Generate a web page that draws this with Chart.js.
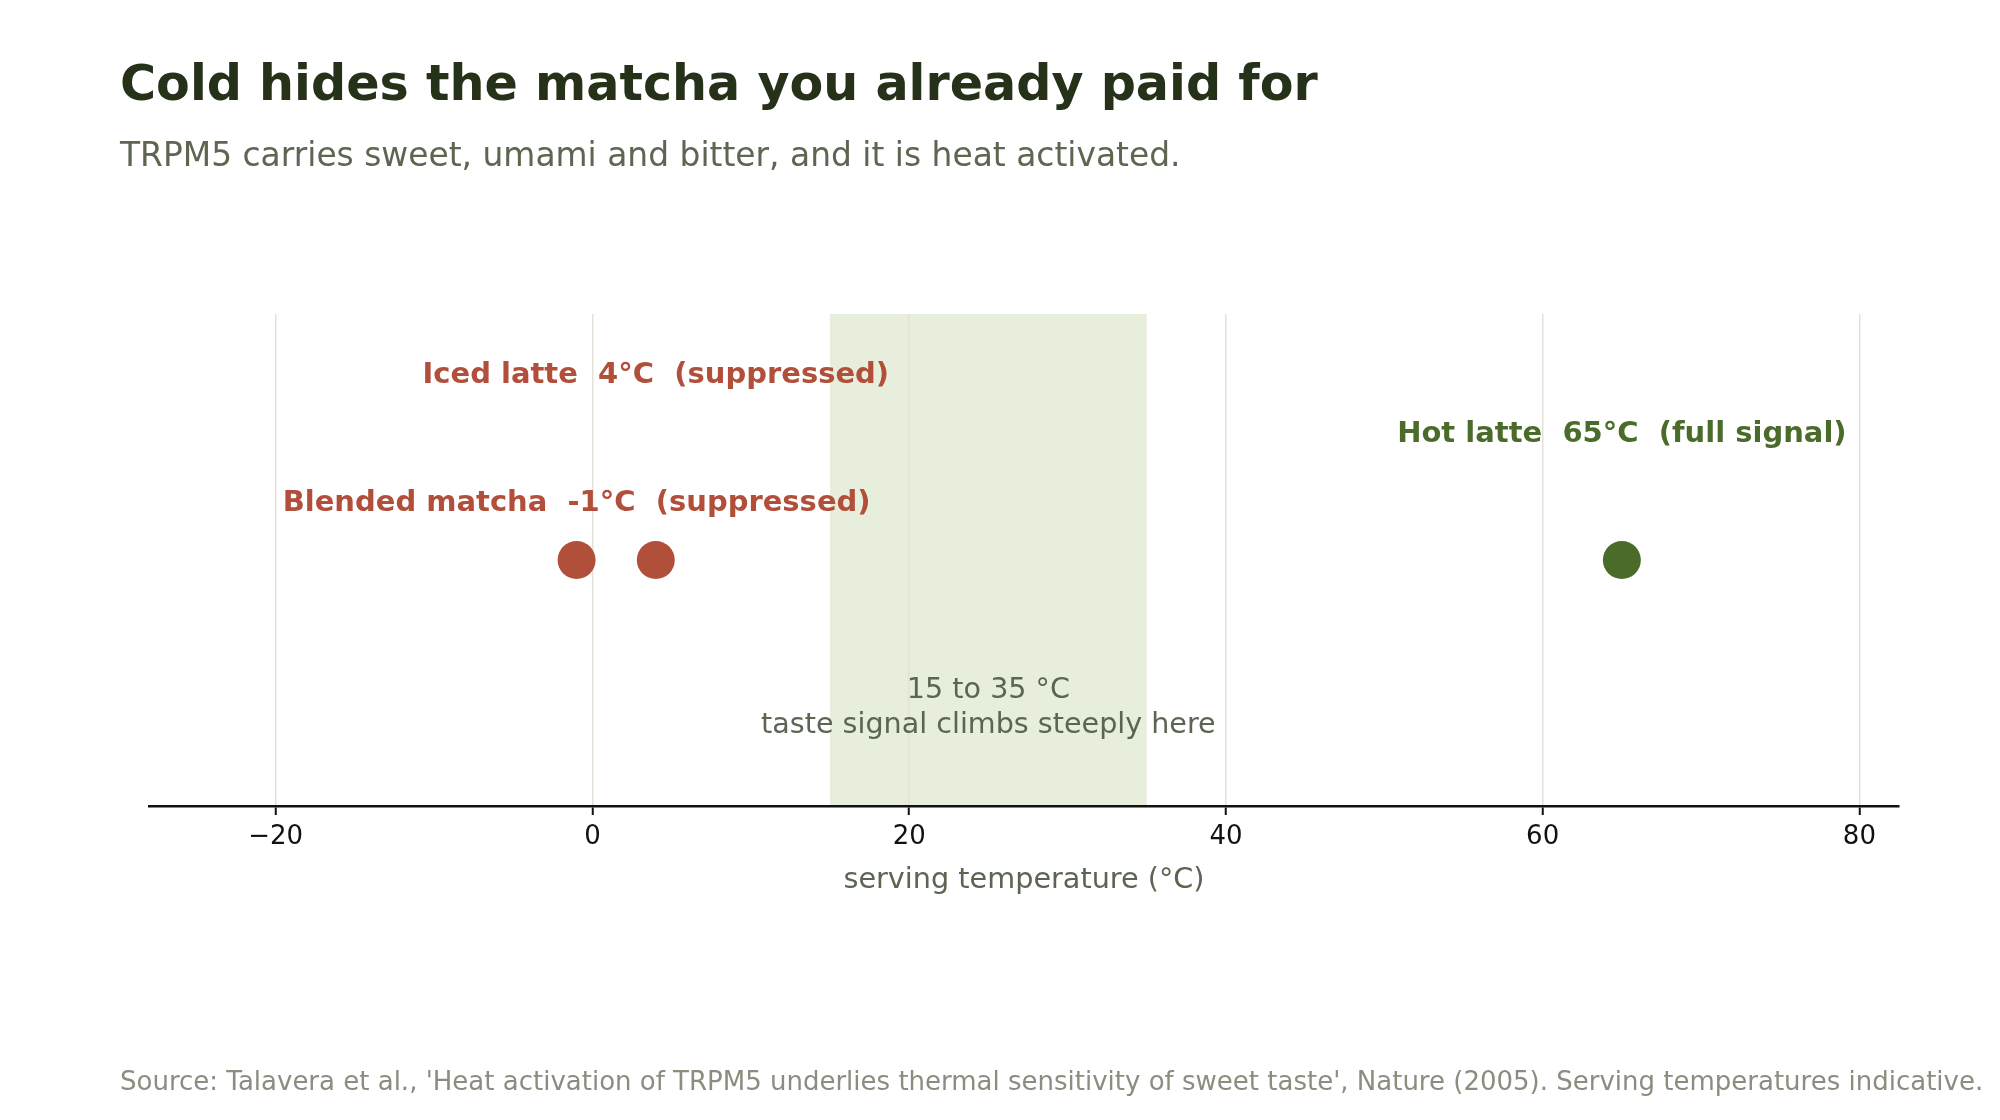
<!DOCTYPE html>
<html>
<head>
<meta charset="utf-8">
<script src="https://cdn.jsdelivr.net/npm/chart.js@4.4.1/dist/chart.umd.min.js"></script>
<style>
  html, body { margin: 0; padding: 0; background: #ffffff; }
  #wrap { width: 2000px; height: 1120px; position: relative; }
</style>
</head>
<body>
<div id="wrap"><canvas id="tempChart" width="2000" height="1120"></canvas></div>
<script>
// drinks and their serving temperatures
const drinks = ['Blended matcha', 'Iced latte', 'Hot latte'];
const temps = [-1, 4, 65];
const signal = ['suppressed', 'suppressed', 'full signal'];
// height (0..1) of each label baseline above the axis
const labelLevel = [0.60, 0.86, 0.74];
const rowY = 0.5;

// TRPM5 steep zone
const band = [15, 35];
const bandNote = ['15 to 35 °C', 'taste signal climbs steeply here'];

const xTicks = [-20, 0, 20, 40, 60, 80];
const xRange = [-28, 82.5];

const title = 'Cold hides the matcha you already paid for';
const subtitle = 'TRPM5 carries sweet, umami and bitter, and it is heat activated.';
const source = "Source: Talavera et al., 'Heat activation of TRPM5 underlies thermal sensitivity of sweet taste', Nature (2005). Serving temperatures indicative.";

const RED = '#b14f3b';
const GREEN = '#4b6b2b';
const FONT = "'DejaVu Sans', 'Noto Sans', sans-serif";

const colorFor = s => s === 'full signal' ? GREEN : RED;

const decorPlugin = {
    id: 'decor',
    beforeDraw(chart) {
        const {ctx, chartArea, scales} = chart;
        const x0 = scales.x.getPixelForValue(band[0]);
        const x1 = scales.x.getPixelForValue(band[1]);
        ctx.save();
        ctx.fillStyle = '#e7eedb';
        ctx.fillRect(x0, chartArea.top, x1 - x0, chartArea.bottom - chartArea.top);
        ctx.restore();
    },
    afterDatasetsDraw(chart) {
        const {ctx, scales} = chart;
        ctx.save();
        ctx.textAlign = 'center';
        ctx.textBaseline = 'alphabetic';

        // point labels
        ctx.font = 'bold 29px ' + FONT;
        drinks.forEach((d, i) => {
            ctx.fillStyle = colorFor(signal[i]);
            const px = scales.x.getPixelForValue(temps[i]);
            const py = scales.y.getPixelForValue(labelLevel[i]);
            ctx.fillText(`${d}  ${temps[i]}°C  (${signal[i]})`, px, py);
        });

        // band note
        ctx.font = '28.6px ' + FONT;
        ctx.fillStyle = '#5c6552';
        const bx = scales.x.getPixelForValue((band[0] + band[1]) / 2);
        const by = scales.y.getPixelForValue(0.148);
        ctx.fillText(bandNote[0], bx, by - 35.4);
        ctx.fillText(bandNote[1], bx, by);
        ctx.restore();
    },
    afterDraw(chart) {
        const {ctx} = chart;
        ctx.save();
        ctx.textAlign = 'left';
        ctx.textBaseline = 'alphabetic';
        ctx.fillStyle = '#263119';
        ctx.font = 'bold 49.2px ' + FONT;
        ctx.fillText(title, 120, 100);
        ctx.fillStyle = '#5d6651';
        ctx.font = '32.9px ' + FONT;
        ctx.fillText(subtitle, 120, 166);
        ctx.fillStyle = '#8a8e7f';
        ctx.font = '26px ' + FONT;
        ctx.fillText(source, 120, 1090);
        ctx.restore();
    }
};

new Chart(document.getElementById('tempChart'), {
    type: 'scatter',
    data: {
        datasets: [{
            data: temps.map(t => ({x: t, y: rowY})),
            pointRadius: 19,
            pointHoverRadius: 19,
            pointBorderWidth: 0,
            pointBackgroundColor: signal.map(colorFor),
            clip: false
        }]
    },
    options: {
        responsive: false,
        devicePixelRatio: 1,
        animation: false,
        events: [],
        layout: {
            padding: {left: 149, right: 101, top: 314, bottom: 194}
        },
        plugins: {
            legend: {display: false},
            tooltip: {enabled: false}
        },
        scales: {
            x: {
                type: 'linear',
                min: xRange[0],
                max: xRange[1],
                afterBuildTicks: (scale) => {
                    scale.ticks = xTicks.map(v => ({value: v}));
                },
                afterFit: (scale) => {
                    scale.height = 120;
                },
                grid: {
                    color: '#e2e2d9',
                    lineWidth: 1.5,
                    drawTicks: true,
                    tickLength: 9,
                    tickColor: '#111',
                    tickWidth: 2
                },
                border: {
                    display: true,
                    color: '#111',
                    width: 2.5
                },
                ticks: {
                    padding: 7,
                    color: '#111',
                    font: {family: FONT, size: 26},
                    maxRotation: 0,
                    callback: (v) => v < 0 ? '\u2212' + Math.abs(v) : String(v)
                },
                title: {
                    display: true,
                    text: 'serving temperature (°C)',
                    color: '#5c6552',
                    font: {family: FONT, size: 28.7},
                    padding: {top: 0, bottom: 28}
                }
            },
            y: {
                display: false,
                min: 0,
                max: 1
            }
        }
    },
    plugins: [decorPlugin]
});
</script>
</body>
</html>
